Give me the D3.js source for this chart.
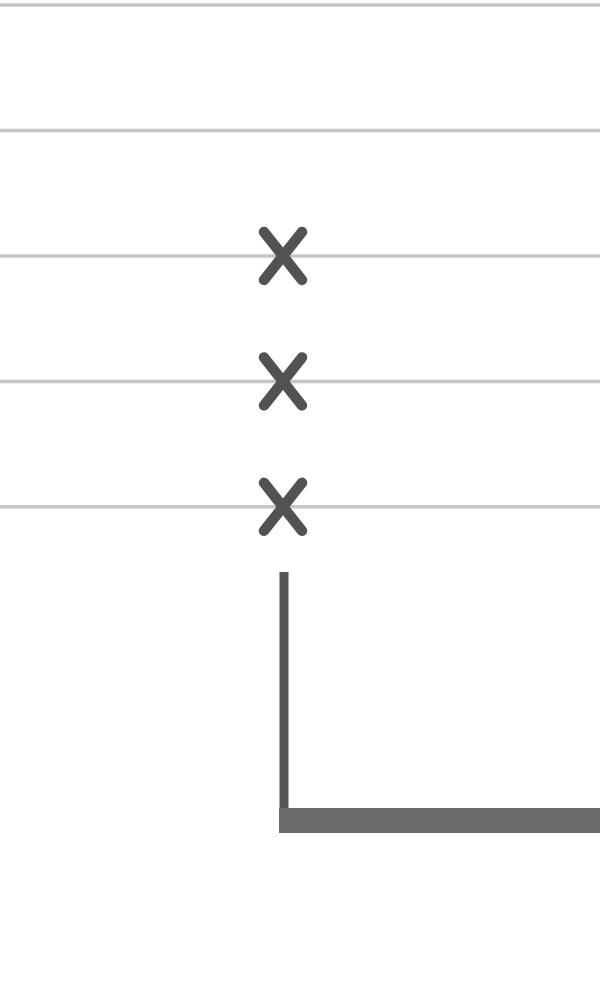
<!DOCTYPE html>
<html>
<head>
<meta charset="utf-8">
<script src="https://cdn.jsdelivr.net/npm/d3@7/dist/d3.min.js"></script>
<style>
  html, body { margin: 0; padding: 0; background: #fff; }
  svg { display: block; }
</style>
</head>
<body>
<div class="board"></div>
<script>
// values
var gridValues = [1, 2, 3, 4, 5];
var pointCategory = [0, 0, 0];
var pointValues = [1, 2, 3];

var chart = function () {

  var opts = {
    width: 600,
    height: 1000
  };

  var svg = d3.select(".board").append("svg")
    .attr("width", opts.width)
    .attr("height", opts.height);

  // y: value 0 sits just below the lowest marker row
  var y = d3.scaleLinear().domain([-1.5, 5]).range([820.5, 5]);
  var x = d3.scaleLinear().domain([0, 1]).range([283, 900]);

  // horizontal grid lines
  svg.append("g").attr("class", "grid")
    .selectAll("line")
    .data(gridValues)
    .enter().append("line")
    .attr("x1", 0)
    .attr("x2", opts.width)
    .attr("y1", function (d) { return y(d); })
    .attr("y2", function (d) { return y(d); })
    .attr("stroke", "#c6c6c6")
    .attr("stroke-width", 3.5);

  // axis corner: thin left line, thick bottom bar
  svg.append("line")
    .attr("x1", x(0) + 1).attr("x2", x(0) + 1)
    .attr("y1", y(0.48)).attr("y2", y(-1.5))
    .attr("stroke", "#555")
    .attr("stroke-width", 9);

  svg.append("line")
    .attr("x1", x(0) - 4).attr("x2", opts.width)
    .attr("y1", y(-1.5)).attr("y2", y(-1.5))
    .attr("stroke", "#6b6b6b")
    .attr("stroke-width", 25);

  // x markers
  var hw = 19, hh = 24;
  svg.append("g").attr("class", "points")
    .selectAll("path")
    .data(pointValues.map(function (v, i) { return { x: pointCategory[i], y: v }; }))
    .enter().append("path")
    .attr("transform", function (d) { return "translate(" + x(d.x) + "," + y(d.y) + ")"; })
    .attr("d", "M" + (-hw) + "," + (-hh) + "L" + hw + "," + hh +
               "M" + hw + "," + (-hh) + "L" + (-hw) + "," + hh)
    .attr("fill", "none")
    .attr("stroke", "#525252")
    .attr("stroke-width", 10.5)
    .attr("stroke-linecap", "round");

};

chart();
</script>
</body>
</html>
